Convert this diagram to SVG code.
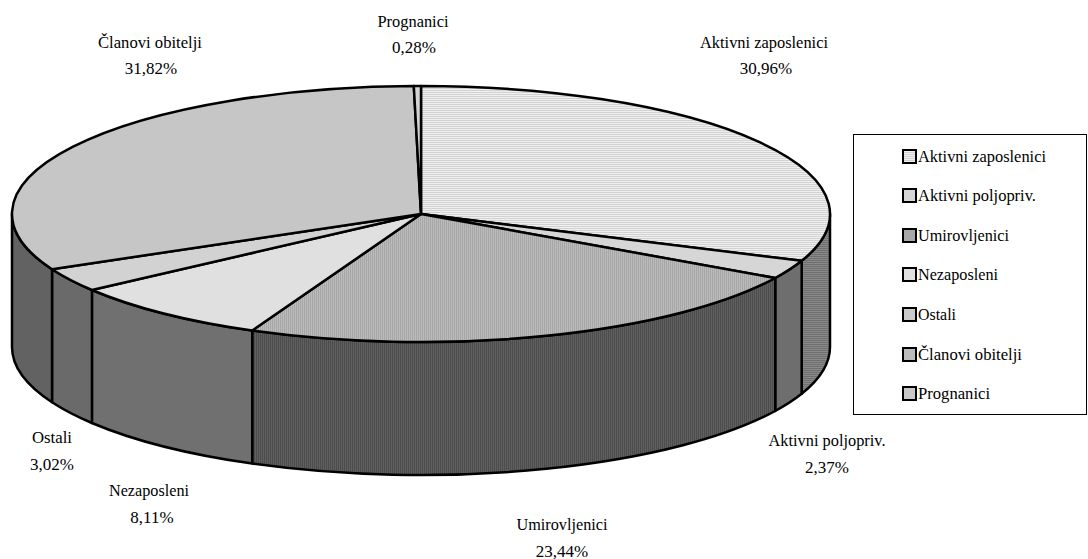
<svg xmlns="http://www.w3.org/2000/svg" width="1088" height="559" viewBox="0 0 1088 559">
<style>
.t{font-family:'Liberation Serif','Times New Roman',serif !important;font-size:17px;fill:#000}
.lbl{text-anchor:middle}
.edge{stroke:#000;stroke-width:2.5;stroke-linejoin:round}
.sw{stroke:#000;stroke-width:2}
</style>
<defs>
<pattern id="pHz" width="4" height="2" patternUnits="userSpaceOnUse"><rect width="4" height="2" fill="#f0f0f0"/><rect width="4" height="1" fill="#d2d2d2"/></pattern>
<pattern id="pHzS" width="4" height="2" patternUnits="userSpaceOnUse"><rect width="4" height="2" fill="#8a8a8a"/><rect width="4" height="1" fill="#6e6e6e"/></pattern>
<pattern id="pVt" width="2" height="4" patternUnits="userSpaceOnUse"><rect width="2" height="4" fill="#bcbcbc"/><rect width="1" height="4" fill="#a6a6a6"/></pattern>
<pattern id="pVtS" width="2" height="4" patternUnits="userSpaceOnUse"><rect width="2" height="4" fill="#606060"/><rect width="1" height="4" fill="#4c4c4c"/></pattern>
</defs>
<rect width="1088" height="559" fill="#fff"/>

<g id="pie-sides">
<path id="side-aktivni-zaposlenici" class="edge" fill="url(#pHzS)" d="M830,214 A409,128 0 0 1 801.66,260.82 L801.66,393.82 A409,128 0 0 0 830,347 Z"/>
<path id="side-aktivni-poljopriv" class="edge" fill="#6e6e6e" d="M801.66,260.82 A409,128 0 0 1 775.21,278 L775.21,411 A409,128 0 0 0 801.66,393.82 Z"/>
<path id="side-umirovljenici" class="edge" fill="url(#pVtS)" d="M775.21,278 A409,128 0 0 1 252.21,330.59 L252.21,463.59 A409,128 0 0 0 775.21,411 Z"/>
<path id="side-nezaposleni" class="edge" fill="#707070" d="M252.21,330.59 A409,128 0 0 1 91.94,290.02 L91.94,423.02 A409,128 0 0 0 252.21,463.59 Z"/>
<path id="side-ostali" class="edge" fill="#6a6a6a" d="M91.94,290.02 A409,128 0 0 1 52.03,269.23 L52.03,402.23 A409,128 0 0 0 91.94,423.02 Z"/>
<path id="side-clanovi" class="edge" fill="#626262" d="M52.03,269.23 A409,128 0 0 1 12,214 L12,347 A409,128 0 0 0 52.03,402.23 Z"/>
</g>

<g id="pie-tops">
<path id="top-aktivni-zaposlenici" class="edge" fill="url(#pHz)" d="M421,214 L421,86 A409,128 0 0 1 801.66,260.82 Z"/>
<path id="top-aktivni-poljopriv" class="edge" fill="#d6d6d6" d="M421,214 L801.66,260.82 A409,128 0 0 1 775.21,278 Z"/>
<path id="top-umirovljenici" class="edge" fill="url(#pVt)" d="M421,214 L775.21,278 A409,128 0 0 1 252.21,330.59 Z"/>
<path id="top-nezaposleni" class="edge" fill="#e0e0e0" d="M421,214 L252.21,330.59 A409,128 0 0 1 91.94,290.02 Z"/>
<path id="top-ostali" class="edge" fill="#d2d2d2" d="M421,214 L91.94,290.02 A409,128 0 0 1 52.03,269.23 Z"/>
<path id="top-clanovi" class="edge" fill="#c6c6c6" d="M421,214 L52.03,269.23 A409,128 0 0 1 413.8,86.02 Z"/>
<path id="top-prognanici" class="edge" fill="#d4d4d4" d="M421,214 L413.8,86.02 A409,128 0 0 1 421,86 Z"/>
</g>

<g id="labels">
<g id="lbl-prognanici"><text class="t lbl" x="413" y="27" textLength="71" lengthAdjust="spacingAndGlyphs">Prognanici</text><text class="t lbl" x="414" y="53">0,28%</text></g>
<g id="lbl-clanovi"><text class="t lbl" x="150" y="48" textLength="104" lengthAdjust="spacingAndGlyphs">Članovi obitelji</text><text class="t lbl" x="151" y="74">31,82%</text></g>
<g id="lbl-aktivni-zaposlenici"><text class="t lbl" x="764" y="48" textLength="128" lengthAdjust="spacingAndGlyphs">Aktivni zaposlenici</text><text class="t lbl" x="766" y="74">30,96%</text></g>
<g id="lbl-aktivni-poljopriv"><text class="t lbl" x="827" y="446" textLength="117" lengthAdjust="spacingAndGlyphs">Aktivni poljopriv.</text><text class="t lbl" x="827" y="473">2,37%</text></g>
<g id="lbl-umirovljenici"><text class="t lbl" x="562" y="530" textLength="91" lengthAdjust="spacingAndGlyphs">Umirovljenici</text><text class="t lbl" x="562" y="557">23,44%</text></g>
<g id="lbl-nezaposleni"><text class="t lbl" x="149" y="496" textLength="80" lengthAdjust="spacingAndGlyphs">Nezaposleni</text><text class="t lbl" x="152" y="523">8,11%</text></g>
<g id="lbl-ostali"><text class="t lbl" x="52" y="443" textLength="40" lengthAdjust="spacingAndGlyphs">Ostali</text><text class="t lbl" x="52" y="470">3,02%</text></g>
</g>

<g id="legend">
<rect x="853.5" y="134.5" width="233" height="280" fill="#fff" stroke="#000" stroke-width="1"/>
<g id="leg-1"><rect class="sw" x="903" y="150" width="13" height="13" fill="url(#pHz)"/><text class="t" x="918" y="162" textLength="128" lengthAdjust="spacingAndGlyphs">Aktivni zaposlenici</text></g>
<g id="leg-2"><rect class="sw" x="903" y="189" width="13" height="13" fill="#d6d6d6"/><text class="t" x="918" y="201" textLength="118" lengthAdjust="spacingAndGlyphs">Aktivni poljopriv.</text></g>
<g id="leg-3"><rect class="sw" x="903" y="229" width="13" height="13" fill="#a8a8a8"/><text class="t" x="918" y="241" textLength="91" lengthAdjust="spacingAndGlyphs">Umirovljenici</text></g>
<g id="leg-4"><rect class="sw" x="903" y="268" width="13" height="13" fill="#e0e0e0"/><text class="t" x="918" y="280" textLength="80" lengthAdjust="spacingAndGlyphs">Nezaposleni</text></g>
<g id="leg-5"><rect class="sw" x="903" y="308" width="13" height="13" fill="#cacaca"/><text class="t" x="918" y="320" textLength="38" lengthAdjust="spacingAndGlyphs">Ostali</text></g>
<g id="leg-6"><rect class="sw" x="903" y="348" width="13" height="13" fill="#bcbcbc"/><text class="t" x="918" y="360" textLength="104" lengthAdjust="spacingAndGlyphs">Članovi obitelji</text></g>
<g id="leg-7"><rect class="sw" x="903" y="387" width="13" height="13" fill="#c8c8c8"/><text class="t" x="918" y="399" textLength="72" lengthAdjust="spacingAndGlyphs">Prognanici</text></g>
</g>
</svg>
